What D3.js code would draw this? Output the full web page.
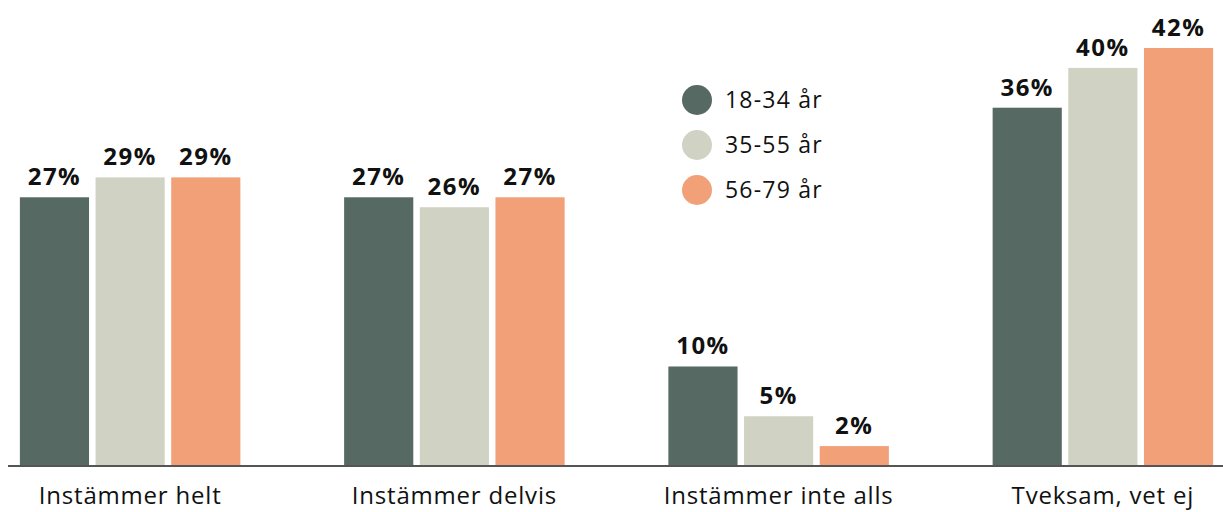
<!DOCTYPE html>
<html>
<head>
<meta charset="utf-8">
<script src="https://cdn.jsdelivr.net/npm/d3@7"></script>
<style>
  body { margin: 0; background: #fff; }
  text { font-family: "Open Sans", sans-serif; }
</style>
</head>
<body>
<div id="chart"></div>
<script>
var w = 1223,
    h = 512;

//Data
var categories = ["Instämmer helt", "Instämmer delvis", "Instämmer inte alls", "Tveksam, vet ej"];
var series = ["18-34 år", "35-55 år", "56-79 år"];
var young = [27, 27, 10, 36];
var middle = [29, 26, 5, 40];
var old = [29, 27, 2, 42];
var colors = ["#566963", "#d0d3c3", "#f2a077"];

var values = [young, middle, old];
var rows = categories.map(function(c, i) {
    return { cat: c, vals: series.map(function(s, j) { return { key: s, value: values[j][i] }; }) };
});

var svg = d3.select("#chart").append("svg")
    .attr("width", w)
    .attr("height", h);

var x0 = d3.scaleBand()
    .domain(categories)
    .range([-32, 1265])
    .paddingInner(0.32)
    .paddingOuter(0.16);

var x1 = d3.scaleBand()
    .domain(series)
    .range([0, x0.bandwidth()])
    .paddingInner(0.086);

var y = d3.scaleLinear()
    .domain([0, 42])
    .range([466, 48]);

var color = d3.scaleOrdinal().domain(series).range(colors);

var groups = svg.selectAll("g.group")
    .data(rows)
    .enter().append("g")
    .attr("class", "group")
    .attr("transform", function(d) { return "translate(" + x0(d.cat) + ",0)"; });

groups.selectAll("rect")
    .data(function(d) { return d.vals; })
    .enter().append("rect")
    .attr("x", function(d) { return x1(d.key); })
    .attr("y", function(d) { return y(d.value); })
    .attr("width", x1.bandwidth())
    .attr("height", function(d) { return y(0) - y(d.value); })
    .attr("fill", function(d) { return color(d.key); });

groups.selectAll("text.val")
    .data(function(d) { return d.vals; })
    .enter().append("text")
    .attr("class", "val")
    .attr("x", function(d) { return x1(d.key) + x1.bandwidth() / 2; })
    .attr("y", function(d) { return y(d.value) - 12; })
    .attr("text-anchor", "middle")
    .attr("font-size", "24px")
    .attr("font-weight", "bold")
    .attr("letter-spacing", "1.5px")
    .attr("fill", "#111")
    .text(function(d) { return d.value + "%"; });

//baseline
svg.append("line")
    .attr("x1", 8)
    .attr("x2", w)
    .attr("y1", y(0))
    .attr("y2", y(0))
    .attr("stroke", "#555")
    .attr("stroke-width", 2);

//category labels
var xAxis = d3.axisBottom(x0).tickSize(0).tickPadding(0);
var ax = svg.append("g")
    .attr("transform", "translate(0,488)")
    .call(xAxis);
ax.select(".domain").remove();
ax.selectAll("text")
    .attr("dy", "16px")
    .attr("font-size", "24px")
    .attr("letter-spacing", "0.8px")
    .attr("font-family", "Open Sans, sans-serif")
    .attr("fill", "#111");

//legend
var legend = svg.selectAll("g.legend")
    .data(series)
    .enter().append("g")
    .attr("class", "legend")
    .attr("transform", function(d, i) { return "translate(697," + (100 + i * 45) + ")"; });

legend.append("circle")
    .attr("r", 15)
    .attr("fill", function(d) { return color(d); });

legend.append("text")
    .attr("x", 28)
    .attr("y", 8)
    .attr("font-size", "23px")
    .attr("letter-spacing", "1.2px")
    .attr("fill", "#111")
    .text(function(d) { return d; });
</script>
</body>
</html>
